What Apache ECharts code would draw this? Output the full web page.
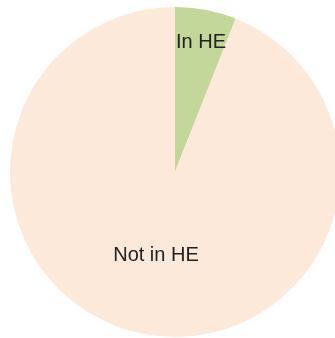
<!DOCTYPE html>
<html>
<head>
<meta charset="utf-8">
<style>
  html, body { margin: 0; padding: 0; background: #ffffff; }
  #chart { width: 335px; height: 338px; }
</style>
<script src="https://cdn.jsdelivr.net/npm/echarts@6/dist/echarts.min.js"></script>
</head>
<body>
<div id="chart"></div>
<script>
// Share of people in higher education
const categories = ['In HE', 'Not in HE'];
const values = [6, 94];
const colors = ['#c4d79b', '#fde9d9'];

const chart = echarts.init(document.getElementById('chart'), null, { renderer: 'canvas' });

chart.setOption({
  animation: false,
  backgroundColor: '#ffffff',
  series: [{
    type: 'pie',
    center: [175, 172],
    radius: [0, 165],
    startAngle: 90,
    clockwise: true,
    avoidLabelOverlap: false,
    silent: true,
    label: {
      show: true,
      position: 'inside',
      formatter: '{b}',
      color: '#222222',
      fontFamily: 'Liberation Sans, Arial, sans-serif',
      fontSize: 20
    },
    labelLine: { show: false },
    itemStyle: { borderWidth: 0 },
    data: categories.map((name, i) => ({
      name: name,
      value: values[i],
      itemStyle: { color: colors[i] },
      label: i === 0 ? { offset: [10, -46] } : { offset: [-3, -1] }
    }))
  }]
});
</script>
</body>
</html>
